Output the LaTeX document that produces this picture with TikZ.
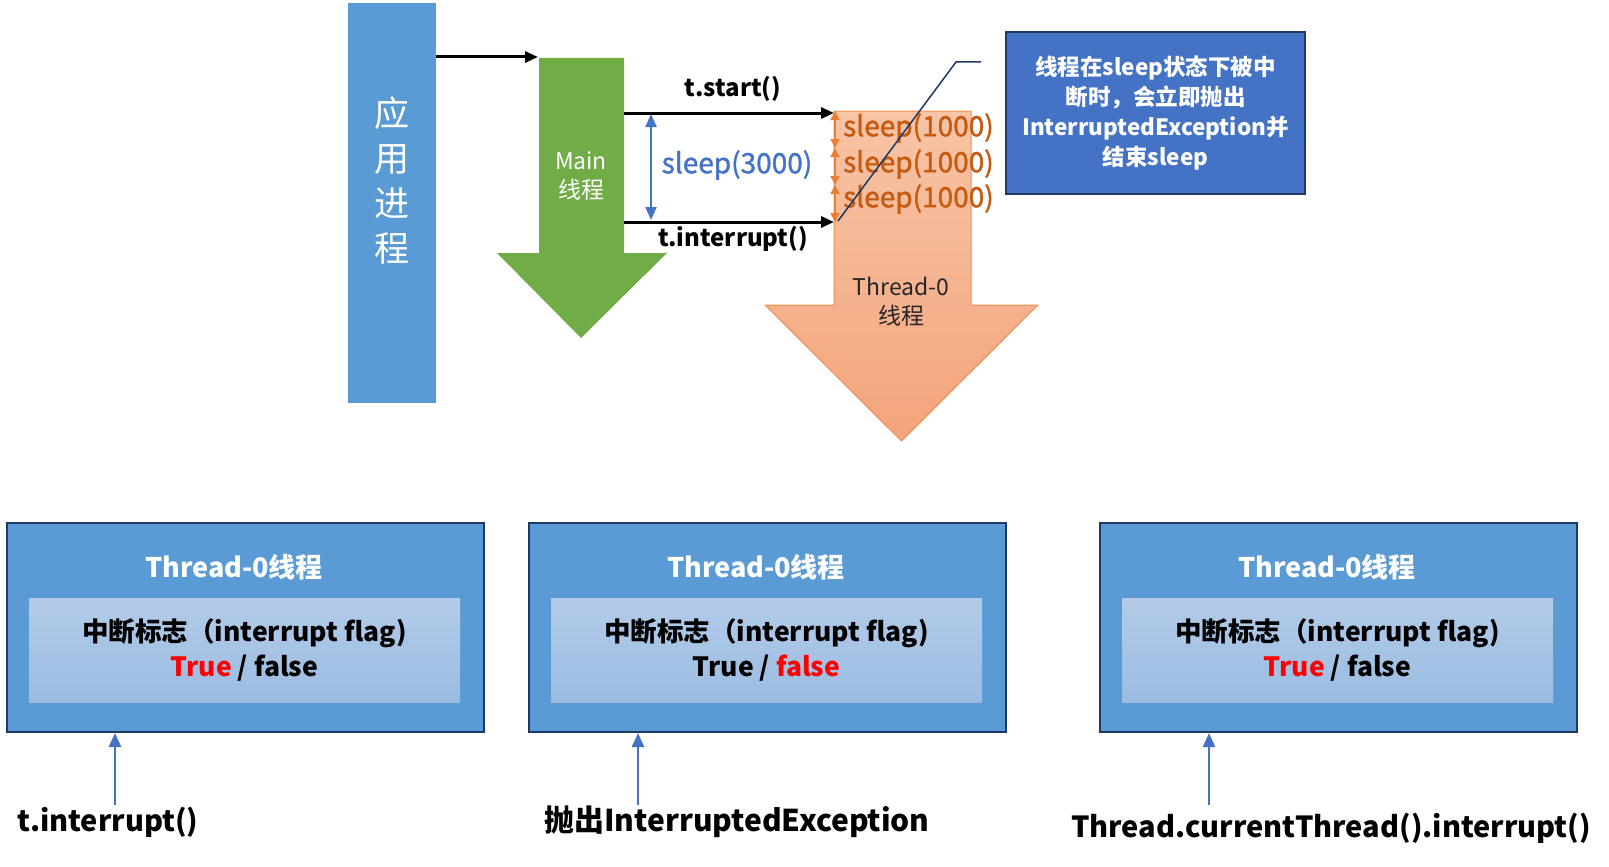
\documentclass[tikz,border=0pt]{standalone}
\usepackage{fontspec}
\setmainfont{Noto Sans CJK SC}
\newfontfamily\semib{Noto Sans CJK SC}[FakeBold=1.3]
\usetikzlibrary{arrows.meta}
\definecolor{barblue}{HTML}{5B9BD5}
\definecolor{mgreen}{HTML}{70AD47}
\definecolor{otop}{HTML}{F7C4A6}
\definecolor{obot}{HTML}{F4A47C}
\definecolor{oedge}{HTML}{F0904F}
\definecolor{oarrow}{HTML}{ED7D31}
\definecolor{otext}{HTML}{C55A11}
\definecolor{cblue}{HTML}{4472C4}
\definecolor{navy}{HTML}{1F3864}
\definecolor{intop}{HTML}{B3CBE8}
\definecolor{inbot}{HTML}{9BBCE2}
\definecolor{dark}{HTML}{262626}
\definecolor{tred}{HTML}{FF0000}
\begin{document}
\begin{tikzpicture}[x=1pt,y=-1pt,
  blkarrow/.style={line width=3pt,-{Triangle[length=13pt,width=11pt]}},
  bluearrow/.style={line width=2.5pt,cblue,-{Triangle[length=14pt,width=12pt]}},
  dblarrow/.style={line width=2pt,cblue,{Triangle[length=13pt,width=11pt]}-{Triangle[length=13pt,width=11pt]}},
  smallarrow/.style={line width=1.8pt,oarrow,{Triangle[length=9pt,width=9pt]}-{Triangle[length=9pt,width=9pt]}},
  lbl/.style={inner sep=0pt,font=\fontsize{24}{28}\selectfont\bfseries},
  outerbox/.style={fill=barblue,draw=navy,line width=2pt,minimum width=477pt,minimum height=209pt,inner sep=0pt,anchor=north west},
  innerbox/.style={top color=intop,bottom color=inbot,minimum width=431pt,minimum height=104pt,inner sep=0pt,anchor=north west},
  boxtitle/.style={text=white,font=\fontsize{27}{30}\selectfont\bfseries,inner sep=0pt},
  boxtext/.style={text=black,font=\fontsize{26.5}{35}\selectfont\bfseries,align=center,inner sep=0pt},
  bottomlbl/.style={text=black,font=\fontsize{29}{36}\selectfont\bfseries,inner sep=0pt},
  sleeplbl/.style={inner sep=0pt,anchor=west,text=otext,font=\fontsize{28}{30}\selectfont\semib}
]
\useasboundingbox (0,0) rectangle (1609,867);

% application process bar
\node[fill=barblue,minimum width=88pt,minimum height=400pt,inner sep=0pt,anchor=north west] (app) at (348,3) {};
\node[text=white,font=\fontsize{35}{45}\selectfont,align=center,inner sep=0pt] (apptxt) at (392,181) {应\\用\\进\\程};

% main thread arrow
\fill[mgreen] (539,58) -- (624,58) -- (624,253) -- (667,253) -- (581,338) -- (497,253) -- (539,253) -- cycle;
\coordinate (mainIn) at (538,57);
\node[text=white,font=\fontsize{23}{29}\selectfont,align=center,inner sep=0pt] (maintxt) at (581,176) {Main\\线程};
\draw[blkarrow] (app.east |- mainIn) -- (mainIn);

% thread-0 arrow
\path[draw=oedge,line width=1pt,top color=otop,bottom color=obot]
  (834,111) -- (971,111) -- (971,305) -- (1038,305) -- (901.5,441) -- (765,305) -- (834,305) -- cycle;
\node[text=dark,font=\fontsize{23}{29}\selectfont,align=center,inner sep=0pt] (t0txt) at (901,302) {Thread-0\\线程};

% start / interrupt arrows
\coordinate (startA) at (624,113);
\coordinate (startB) at (834,113);
\coordinate (intA) at (624,222);
\coordinate (intB) at (834,222);
\draw[blkarrow] (startA) -- (startB);
\draw[blkarrow] (intA) -- (intB);
\node[lbl] (startlbl) at (733,89) {t.start()};
\node[lbl] (intlbl) at (733,239) {t.interrupt()};

% sleep(3000)
\coordinate (s3a) at (651,114);
\coordinate (s3b) at (651,220);
\draw[dblarrow] (s3a) -- (s3b);
\node[inner sep=0pt,text=cblue,font=\fontsize{28}{30}\selectfont\semib] (s3000) at (737,165) {sleep(3000)};

% sleep(1000) x3
\coordinate (o0) at (835,111);
\coordinate (o1) at (835,148);
\coordinate (o2) at (835,185);
\coordinate (o3) at (835,222);
\draw[smallarrow] (o0) -- (o1);
\draw[smallarrow] (o1) -- (o2);
\draw[smallarrow] (o2) -- (o3);
\node[sleeplbl] (s1) at (843,128) {sleep(1000)};
\node[sleeplbl] (s2) at (843,164) {sleep(1000)};
\node[sleeplbl] (s3) at (843,199) {sleep(1000)};

% callout
\node[fill=cblue,draw=navy,line width=2pt,minimum width=299pt,minimum height=162pt,inner sep=0pt,
  text=white,font=\fontsize{22.5}{30}\selectfont\bfseries,align=center] (callout) at (1155.5,113)
  {线程在sleep状态下被中\\断时，会立即抛出\\InterruptedException并\\结束sleep};
\coordinate (cl0) at (838,221);
\coordinate (cl1) at (956,62);
\coordinate (cl2) at (981,62);
\draw[navy,line width=1.5pt] (cl0) -- (cl1) -- (cl2);

% bottom boxes
\foreach \i/\x/\ftrue/\ffalse in {1/6/tred/black, 2/528/black/tred, 3/1099/tred/black}{
  \node[outerbox] (box\i) at (\x,522) {};
  \node[innerbox] (inner\i) at (\x+23,598) {};
  \node[boxtitle] (title\i) at (\x+228,567) {Thread-0线程};
  \node[boxtext] (flag\i) at (\x+238.5,650) {中断标志（interrupt flag)\\\textcolor{\ftrue}{True} / \textcolor{\ffalse}{false}};
}
\coordinate (a1) at (115,805);
\coordinate (a2) at (638,805);
\coordinate (a3) at (1209,805);
\draw[bluearrow] (a1) -- (a1 |- box1.south);
\draw[bluearrow] (a2) -- (a2 |- box2.south);
\draw[bluearrow] (a3) -- (a3 |- box3.south);
\node[bottomlbl] (l1) at (108,822) {t.interrupt()};
\node[bottomlbl,font=\fontsize{30}{36}\selectfont\bfseries] (l2) at (737,822) {抛出InterruptedException};
\node[bottomlbl] (l3) at (1331,828) {Thread.currentThread().interrupt()};
\end{tikzpicture}
\end{document}
